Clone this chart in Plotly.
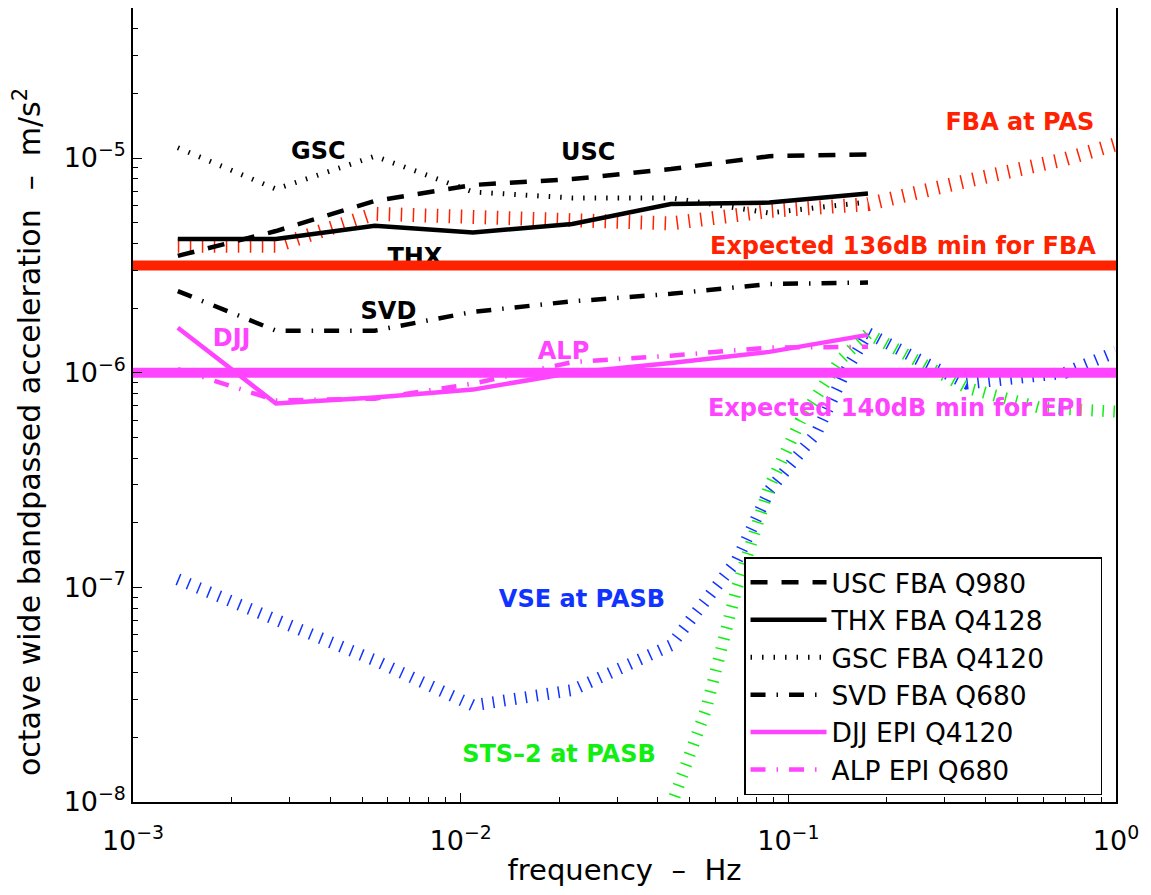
import plotly.graph_objects as go

# ---------------- data ----------------
f_oct = [0.00137, 0.00273, 0.00547, 0.0109, 0.0219, 0.0438, 0.0875, 0.175]

usc = [3.50e-6, 4.57e-6, 6.31e-6, 7.49e-6, 7.98e-6, 8.89e-6, 1.02e-5, 1.04e-5]
thx = [4.20e-6, 4.20e-6, 4.83e-6, 4.50e-6, 4.93e-6, 6.10e-6, 6.20e-6, 6.83e-6]
gsc = [1.117e-5, 7.17e-6, 1.02e-5, 6.95e-6, 6.52e-6, 6.52e-6, 5.55e-6, 6.24e-6]
svd = [2.40e-6, 1.57e-6, 1.57e-6, 1.92e-6, 2.15e-6, 2.33e-6, 2.59e-6, 2.63e-6]
djj = [1.62e-6, 7.18e-7, 7.66e-7, 8.34e-7, 1.00e-6, 1.11e-6, 1.25e-6, 1.50e-6]
alp = [1.04e-6, 7.42e-7, 7.57e-7, 8.89e-7, 1.12e-6, 1.20e-6, 1.31e-6, 1.32e-6]

f_fba = [0.00137, 0.00273, 0.00547, 0.0109, 0.0219, 0.0438, 0.0875, 0.175, 0.35, 0.70, 1.0]
fba_pas = [3.90e-6, 3.90e-6, 5.50e-6, 5.38e-6, 5.15e-6, 4.96e-6, 5.67e-6, 6.10e-6, 7.82e-6, 9.89e-6, 1.16e-5]

f_vse = [0.00137, 0.00273, 0.00547, 0.0109, 0.0219, 0.0438, 0.0697, 0.0875, 0.122, 0.148, 0.175, 0.25, 0.35, 0.70, 1.0]
vse_pasb = [1.09e-7, 7.17e-8, 4.57e-8, 2.82e-8, 3.32e-8, 5.37e-8, 1.34e-7, 2.83e-7, 5.26e-7, 9.89e-7, 1.53e-6, 1.15e-6, 8.9e-7, 1.0e-6, 1.25e-6]

f_sts = [0.0438, 0.0560, 0.0697, 0.0873, 0.109, 0.1436, 0.175, 0.250, 0.35, 0.586, 1.0]
sts2_pasb = [9.5e-9, 2.68e-8, 1.0e-7, 2.92e-7, 5.98e-7, 1.14e-6, 1.52e-6, 1.14e-6, 8.51e-7, 6.87e-7, 6.59e-7]

f_span = [0.001, 1.0]
fba_min = [3.16e-6, 3.16e-6]   # Expected 136dB min for FBA
epi_min = [1.0e-6, 1.0e-6]     # Expected 140dB min for EPI

x_tickvals = [1e-3, 1e-2, 1e-1, 1e0]
x_ticktext = ["10<sup>−3</sup>", "10<sup>−2</sup>", "10<sup>−1</sup>", "10<sup>0</sup>"]
y_tickvals = [1e-8, 1e-7, 1e-6, 1e-5]
y_ticktext = ["10<sup>−8</sup>", "10<sup>−7</sup>", "10<sup>−6</sup>", "10<sup>−5</sup>"]

series_names = ["USC FBA Q980", "THX FBA Q4128", "GSC FBA Q4120",
                "SVD FBA Q680", "DJJ EPI Q4120", "ALP EPI Q680"]

RED = "#FF2200"
MAG = "#FF44FF"
BLUE = "#1133FF"
GREEN = "#11EE11"
BLACK = "#000000"

label_text = ["GSC", "USC", "THX", "SVD", "DJJ", "ALP", "FBA at PAS",
              "Expected 136dB min for FBA", "Expected 140dB min for EPI",
              "VSE at PASB", "STS–2 at PASB"]
label_x = [3.68e-3, 0.0245, 7.25e-3, 6.02e-3, 2.0e-3, 0.0206, 0.509, 0.2237, 0.2126, 0.02345, 0.01995]
label_y = [1.055e-5, 1.045e-5, 3.39e-6, 1.90e-6, 1.42e-6, 1.24e-6, 1.44e-5, 3.83e-6, 6.69e-7, 8.6e-8, 1.635e-8]
label_color = [BLACK, BLACK, BLACK, BLACK, MAG, MAG, RED, RED, MAG, BLUE, GREEN]

FONT = "DejaVu Sans"
PAD = "\u00a0" * 6   # widens the legend box like the reference

fig = go.Figure()

# hatched reference curves
fig.add_trace(go.Scatter(x=f_vse, y=vse_pasb, mode="lines", showlegend=False,
                         line=dict(color=BLUE, width=12, dash="1.5px,9.5px")))
fig.add_trace(go.Scatter(x=f_sts, y=sts2_pasb, mode="lines", showlegend=False,
                         line=dict(color=GREEN, width=12, dash="1.5px,9.5px")))
fig.add_trace(go.Scatter(x=f_fba, y=fba_pas, mode="lines", showlegend=False,
                         line=dict(color=RED, width=14, dash="1.5px,10.5px")))

# labels (drawn below the thick horizontal lines)
for t, xx, yy, c in zip(label_text, label_x, label_y, label_color):
    fig.add_trace(go.Scatter(x=[xx], y=[yy], mode="text", text=["<b>" + t + "</b>"],
                             textposition="middle center", showlegend=False,
                             textfont=dict(family=FONT, size=24, color=c)))

# expected minimum lines
fig.add_trace(go.Scatter(x=f_span, y=fba_min, mode="lines", showlegend=False,
                         line=dict(color=RED, width=10)))
fig.add_trace(go.Scatter(x=f_span, y=epi_min, mode="lines", showlegend=False,
                         line=dict(color=MAG, width=10)))

# instruments
series_vals = [usc, thx, gsc, svd, djj, alp]
series_line = [
    dict(color=BLACK, width=4.5, dash="17px,14px"),
    dict(color=BLACK, width=4.5),
    dict(color=BLACK, width=5, dash="1.5px,10px"),
    dict(color=BLACK, width=4.5, dash="15px,11px,1.5px,11px"),
    dict(color=MAG, width=4.5),
    dict(color=MAG, width=4.5, dash="15px,11px,1.5px,11px"),
]
for nm, vals, ln in zip(series_names, series_vals, series_line):
    fig.add_trace(go.Scatter(x=f_oct, y=vals, mode="lines", name=nm + PAD, line=ln))

x_minor = [k * 10.0 ** e for e in (-3, -2, -1) for k in range(2, 10)]
y_minor = [k * 10.0 ** e for e in (-8, -7, -6, -5) for k in range(2, 10) if k * 10.0 ** e <= 5e-5]

axis_common = dict(
    type="log", showgrid=False, zeroline=False,
    showline=True, linecolor="black", linewidth=1.5, mirror=True,
    ticks="inside", ticklen=9, tickwidth=1, tickcolor="black",
    tickmode="array",
    tickfont=dict(family=FONT, size=27, color="black"),
)

fig.update_xaxes(**axis_common, range=[-3, 0],
                 tickvals=x_tickvals, ticktext=x_ticktext, ticklabelstandoff=14,
                 minor=dict(ticks="inside", ticklen=5, tickcolor="black", tickmode="array", tickvals=x_minor),
                 title=dict(text="frequency  –  Hz", font=dict(family=FONT, size=29, color="black"), standoff=17))
fig.update_yaxes(**axis_common, range=[-8, -4.30103],
                 tickvals=y_tickvals, ticktext=y_ticktext,
                 minor=dict(ticks="inside", ticklen=5, tickcolor="black", tickmode="array", tickvals=y_minor))

# y-axis title placed as in the reference (slightly below the axis centre)
fig.add_annotation(text="octave wide bandpassed acceleration  –  m/s<sup>2</sup>",
                   xref="paper", yref="paper", x=-0.1068, y=0.466,
                   xanchor="center", yanchor="middle", textangle=-90, showarrow=False,
                   font=dict(family=FONT, size=30, color="black"))

fig.update_layout(
    width=1135, height=879,
    margin=dict(l=125, r=27, t=0, b=85, autoexpand=False),
    plot_bgcolor="white", paper_bgcolor="white",
    legend=dict(x=0.6216, y=0.3085, xanchor="left", yanchor="top",
                bgcolor="white", bordercolor="black", borderwidth=1.5,
                font=dict(family=FONT, size=26.5, color="black"),
                itemwidth=76, tracegroupgap=0),
)

fig.write_html("out.html")
